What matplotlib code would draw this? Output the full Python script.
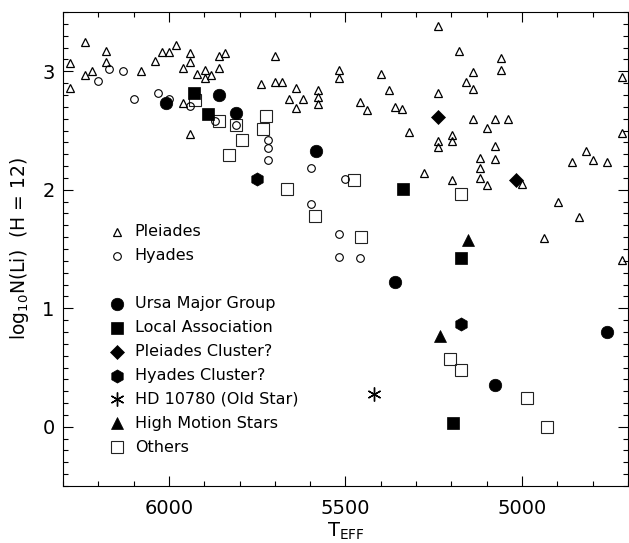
import matplotlib
matplotlib.use("Agg")
import matplotlib.pyplot as plt
from matplotlib.ticker import MultipleLocator

# ---------------- data (Teff, log N(Li)) ----------------
pleiades_t = [6239, 6280, 6280, 6239, 6219, 6178, 6178, 6080, 6039, 6019, 6000, 5979,
              5940, 5940, 5960, 5920, 5899, 5899, 5880, 5859, 5859, 5840, 5960, 5940,
              5740, 5700, 5700, 5679, 5639, 5659, 5619, 5639, 5579, 5579, 5579, 5519,
              5519, 5239, 5179, 5059, 5059, 5399, 5139, 5160, 5139, 5239, 5378, 5458,
              5439, 5360, 5339, 5319, 5139, 5078, 5039, 5099, 5239, 5239, 5199, 5199,
              5078, 5119, 5078, 5119, 5119, 5099, 5199, 5279, 4999, 4819, 4858, 4798,
              4759, 4718, 4718, 4899, 4838, 4939, 4718]
pleiades_li = [3.25, 3.07, 2.86, 2.97, 3.00, 3.17, 3.08, 3.00, 3.09, 3.16, 3.16, 3.22,
               3.15, 3.08, 3.03, 2.98, 3.01, 2.94, 2.97, 3.03, 3.13, 3.15, 2.73, 2.47,
               2.89, 3.13, 2.91, 2.91, 2.86, 2.77, 2.77, 2.69, 2.84, 2.78, 2.72, 3.01,
               2.94, 3.38, 3.17, 3.11, 3.01, 2.98, 2.99, 2.91, 2.85, 2.82, 2.84, 2.74,
               2.67, 2.70, 2.68, 2.49, 2.60, 2.60, 2.60, 2.52, 2.41, 2.36, 2.46, 2.41,
               2.37, 2.27, 2.26, 2.18, 2.10, 2.04, 2.08, 2.14, 2.05, 2.33, 2.23, 2.25,
               2.23, 2.95, 2.48, 1.90, 1.77, 1.59, 1.41]

hyades_t = [6171, 6130, 6200, 6099, 6030, 6000, 5940, 5870, 5809, 5720, 5720, 5720,
            5599, 5599, 5500, 5519, 5519, 5460]
hyades_li = [3.02, 3.00, 2.92, 2.77, 2.82, 2.77, 2.71, 2.58, 2.55, 2.42, 2.35, 2.25,
             2.18, 1.88, 2.09, 1.63, 1.43, 1.42]

uma_t = [6008, 5859, 5809, 5584, 5361, 5078, 4759]
uma_li = [2.73, 2.80, 2.65, 2.33, 1.22, 0.35, 0.80]

local_t = [5928, 5889, 5337, 5174, 5195]
local_li = [2.82, 2.64, 2.01, 1.42, 0.03]

plcl_t = [5237, 5017]
plcl_li = [2.61, 2.08]

hycl_t = [5750, 5174]
hycl_li = [2.09, 0.87]

hd_t = [5418]
hd_li = [0.28]

hm_t = [5152, 5232]
hm_li = [1.58, 0.77]

others_t = [5925, 5859, 5809, 5726, 5733, 5792, 5829, 5666, 5476, 5587, 5457, 5174,
            5205, 5174, 4986, 4928]
others_li = [2.76, 2.58, 2.55, 2.62, 2.51, 2.42, 2.29, 2.01, 2.08, 1.78, 1.60, 1.96,
             0.57, 0.48, 0.24, 0.00]

legend_labels = ["Pleiades", "Hyades", None, "Ursa Major Group", "Local Association",
                 "Pleiades Cluster?", "Hyades Cluster?", "HD 10780 (Old Star)",
                 "High Motion Stars", "Others"]

# ---------------- styles ----------------
asterisk = (6, 2, 0)
styles = {
    "Pleiades": dict(marker="^", ms=5.5, mfc="none", mec="black", mew=0.9),
    "Hyades": dict(marker="o", ms=5.5, mfc="none", mec="black", mew=0.8),
    "Ursa Major Group": dict(marker="o", ms=9.0, mfc="black", mec="black", mew=0.5),
    "Local Association": dict(marker="s", ms=8.8, mfc="black", mec="black", mew=0.5),
    "Pleiades Cluster?": dict(marker="D", ms=7.0, mfc="black", mec="black", mew=0.5),
    "Hyades Cluster?": dict(marker="h", ms=9.5, mfc="black", mec="black", mew=0.5),
    "HD 10780 (Old Star)": dict(marker=asterisk, ms=10.0, mfc="black", mec="black", mew=1.0),
    "High Motion Stars": dict(marker="^", ms=9.0, mfc="black", mec="black", mew=0.5),
    "Others": dict(marker="s", ms=9.3, mfc="none", mec="#222222", mew=0.8),
}

plt.rcParams["font.family"] = ["DejaVu Sans"]
fig = plt.figure(figsize=(6.29, 5.43), dpi=100)
ax = fig.add_axes([63 / 629, 1 - 486 / 543, 565 / 629, 474 / 543])

series = [
    ("Others", others_t, others_li, 2),
    ("Ursa Major Group", uma_t, uma_li, 3),
    ("Local Association", local_t, local_li, 3),
    ("Pleiades Cluster?", plcl_t, plcl_li, 3),
    ("Hyades Cluster?", hycl_t, hycl_li, 3),
    ("HD 10780 (Old Star)", hd_t, hd_li, 3),
    ("High Motion Stars", hm_t, hm_li, 3),
    ("Pleiades", pleiades_t, pleiades_li, 4),
    ("Hyades", hyades_t, hyades_li, 4),
]
for name, t, li, z in series:
    ax.plot(t, li, linestyle="none", zorder=z, **styles[name])

ax.set_xlim(6300, 4700)
ax.set_ylim(-0.5, 3.5)

ax.xaxis.set_major_locator(MultipleLocator(500))
ax.xaxis.set_minor_locator(MultipleLocator(100))
ax.yaxis.set_major_locator(MultipleLocator(1))
ax.yaxis.set_minor_locator(MultipleLocator(0.1))
ax.tick_params(which="both", direction="in", top=True, right=True, width=0.8)
ax.tick_params(which="major", length=7.5)
ax.tick_params(which="minor", length=3.5)
ax.tick_params(axis="x", which="major", labelsize=14, pad=9)
ax.tick_params(axis="y", which="major", labelsize=14, pad=6)
for s in ax.spines.values():
    s.set_linewidth(0.8)

ax.set_xlabel(r"T$_{\mathrm{EFF}}$", fontsize=14, labelpad=2)
ax.set_ylabel(r"log$_{10}$N(Li)  (H = 12)", fontsize=13.5, labelpad=8)

# ---------------- legend (manual, in axes fraction) ----------------
lx_marker = 0.0956
lx_text = 0.127
ly0 = 0.536
dy = 0.0505
row = 0
for lab in legend_labels:
    if lab is not None:
        y = ly0 - row * dy
        ax.plot([lx_marker], [y], transform=ax.transAxes, linestyle="none",
                clip_on=False, **styles[lab])
        ax.text(lx_text, y, lab, transform=ax.transAxes, fontsize=11.5,
                va="center", ha="left")
    row += 1

fig.savefig("out.png", dpi=100)
